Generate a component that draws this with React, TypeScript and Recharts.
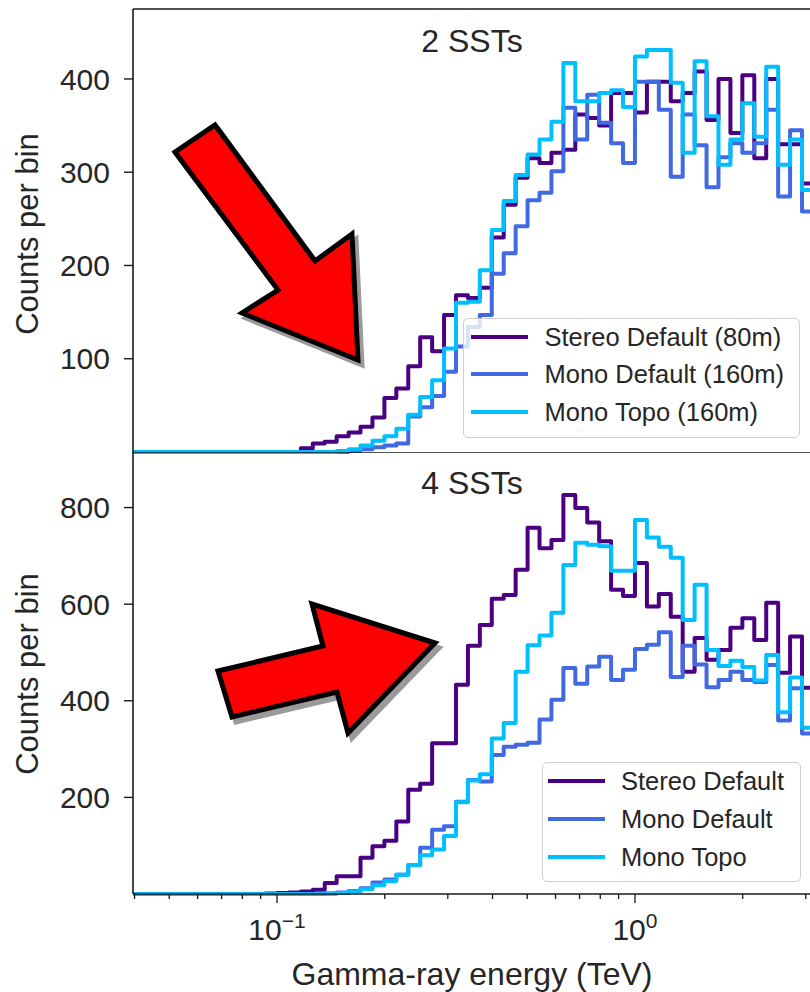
import { LineChart, Line, XAxis, YAxis, ReferenceLine, Legend } from 'recharts';

const FONT = '"Liberation Sans", Arial, Helvetica, sans-serif';
const TEXT = '#262626';
const AXIS = '#1a1a1a';

const COLORS: Record<string, string> = { stereo: '#4b0082', mono: '#4169e1', topo: '#00bfff' };
const KEYS = ['stereo', 'mono', 'topo'];

// x axis (log, TeV)
const X_MIN = 0.0396;
const X_MAX = 3.083;
const X_TICKS = [0.04, 0.05, 0.06, 0.07, 0.08, 0.09, 0.1, 0.2, 0.3, 0.4, 0.5, 0.6, 0.7, 0.8, 0.9, 1, 2, 3];

const TOP_Y_TICKS = [100, 200, 300, 400];
const BOTTOM_Y_TICKS = [200, 400, 600, 800];

// histogram bin edges, 30 per decade (0.0926 ... 3.162 TeV)
const BIN_EDGES = [
  0.09261, 0.1, 0.10798, 0.11659, 0.12589, 0.13594, 0.14678, 0.15849, 0.17113, 0.18478,
  0.19953, 0.21544, 0.23263, 0.25119, 0.27123, 0.29286, 0.31623, 0.34145, 0.36869, 0.39811,
  0.42987, 0.46416, 0.50119, 0.54117, 0.58434, 0.63096, 0.68129, 0.73564, 0.79433, 0.8577,
  0.92611, 1, 1.07978, 1.16591, 1.25893, 1.35936, 1.4678, 1.58489, 1.71133, 1.84785,
  1.99526, 2.15443, 2.32631, 2.51189, 2.71227, 2.92864, 3.16228,
];

// counts per bin — 2 SSTs
const TOP_STEREO = [
  0, 0, 0, 4, 9, 11, 17, 21, 27, 37, 58, 68, 92, 123, 108, 147, 168, 165, 176, 230,
  265, 294, 315, 310, 321, 324, 362, 358, 350, 385, 385, 364, 397, 397, 376, 385, 408, 356, 400, 342,
  404, 315, 400, 330, 330, 288,
];
const TOP_MONO = [
  0, 0, 0, 0, 0, 0, 0, 1, 3, 5, 7, 9, 38, 48, 60, 86, 113, 134, 147, 191,
  213, 242, 270, 278, 301, 369, 335, 383, 353, 331, 310, 397, 397, 367, 295, 362, 329, 284, 316, 331,
  321, 331, 367, 274, 345, 258,
];
const TOP_TOPO = [
  0, 0, 0, 0, 0, 0, 1, 3, 7, 12, 17, 25, 40, 59, 77, 111, 160, 161, 195, 238,
  269, 297, 319, 335, 354, 417, 376, 376, 385, 388, 370, 424, 431, 431, 396, 321, 419, 360, 308, 335,
  374, 338, 413, 308, 335, 281,
];

// counts per bin — 4 SSTs
const BOTTOM_STEREO = [
  1, 2, 3, 5, 9, 23, 37, 37, 75, 99, 110, 150, 216, 228, 312, 312, 433, 514, 557, 611,
  619, 671, 758, 716, 733, 826, 799, 769, 730, 630, 617, 685, 595, 621, 574, 460, 530, 485, 505, 551,
  571, 526, 603, 458, 533, 427,
];
const BOTTOM_MONO = [
  0, 0, 0, 0, 0, 1, 3, 6, 12, 24, 30, 40, 60, 96, 133, 140, 191, 236, 233, 288,
  305, 309, 313, 361, 402, 468, 435, 471, 491, 443, 464, 507, 516, 542, 449, 514, 475, 428, 443, 460,
  443, 439, 474, 359, 426, 332,
];
const BOTTOM_TOPO = [
  0, 0, 0, 0, 0, 1, 2, 5, 10, 18, 27, 40, 60, 80, 92, 120, 190, 235, 248, 322,
  354, 460, 515, 535, 582, 681, 727, 723, 720, 669, 669, 774, 738, 719, 696, 567, 640, 505, 472, 483,
  470, 442, 495, 376, 448, 344,
];

const TOP_LABELS = ['Stereo Default (80m)', 'Mono Default (160m)', 'Mono Topo (160m)'];
const BOTTOM_LABELS = ['Stereo Default', 'Mono Default', 'Mono Topo'];

function buildRows(stereo: number[], mono: number[], topo: number[]) {
  const rows = [{ e: X_MIN, stereo: 0, mono: 0, topo: 0 }];
  BIN_EDGES.forEach((e, i) => {
    const j = Math.min(i, stereo.length - 1);
    rows.push({ e, stereo: stereo[j], mono: mono[j], topo: topo[j] });
  });
  return rows;
}

const topRows = buildRows(TOP_STEREO, TOP_MONO, TOP_TOPO);
const bottomRows = buildRows(BOTTOM_STEREO, BOTTOM_MONO, BOTTOM_TOPO);

function XTick(props: any) {
  const { x, y, payload, labels, majorLen, minorLen } = props;
  const v = payload.value;
  const major = v === 0.1 || v === 1;
  return (
    <g>
      <line x1={x} x2={x} y1={y} y2={y + (major ? majorLen : minorLen)} stroke={AXIS} strokeWidth={1.3} />
      {labels && major ? (
        <text x={x} y={y + 46} textAnchor="middle" fontSize={30} fontFamily={FONT} fill={TEXT}>
          10
          <tspan dy={-12} fontSize={21}>
            {v === 1 ? '0' : '\u22121'}
          </tspan>
        </text>
      ) : null}
    </g>
  );
}

const ROW_CENTERS = [19.5, 57, 95];

function LegendBox({ labels, width, sampleLeft, sampleWidth, textLeft }: any) {
  return (
    <div
      style={{
        position: 'relative',
        width,
        height: 120,
        boxSizing: 'border-box',
        border: '1.5px solid #cfcfcf',
        borderRadius: 5,
        background: 'rgba(255,255,255,0.8)',
        fontFamily: FONT,
      }}
    >
      {labels.map((label: string, i: number) => (
        <div key={label} style={{ position: 'absolute', left: 0, top: ROW_CENTERS[i] - 16.5, height: 30, width: '100%' }}>
          <div style={{ position: 'absolute', left: sampleLeft, top: 13, width: sampleWidth, height: 4, background: COLORS[KEYS[i]] }} />
          <div
            style={{
              position: 'absolute',
              left: textLeft,
              top: 0,
              height: 30,
              lineHeight: '30px',
              fontSize: 25.5,
              color: TEXT,
              whiteSpace: 'nowrap',
            }}
          >
            {label}
          </div>
        </div>
      ))}
    </div>
  );
}

const yTick = { fontSize: 30, fill: TEXT, fontFamily: FONT };
const axisLine = { stroke: AXIS, strokeWidth: 1.6 };

export default function App() {
  return (
    <div style={{ position: 'absolute', left: 0, top: 0, width: 810, height: 992, overflow: 'hidden', background: '#fff', fontFamily: FONT }}>
      {/* 2 SSTs */}
      <div style={{ position: 'absolute', left: 0, top: 0 }}>
        <LineChart width={810} height={461} data={topRows} margin={{ top: 9, right: 0, bottom: 9, left: 0 }}>
          <XAxis
            dataKey="e"
            type="number"
            scale="log"
            domain={[X_MIN, X_MAX]}
            allowDataOverflow
            ticks={X_TICKS}
            interval={0}
            height={0}
            tickSize={0}
            tickMargin={0}
            tickLine={false}
            axisLine={axisLine}
            tick={<XTick labels={false} majorLen={7} minorLen={4} />}
          />
          <YAxis
            type="number"
            domain={[0, 475]}
            ticks={TOP_Y_TICKS}
            width={133}
            tickSize={9}
            tickMargin={14}
            axisLine={axisLine}
            tickLine={{ stroke: AXIS, strokeWidth: 1.4 }}
            tick={yTick}
          />
          <ReferenceLine y={475} stroke={AXIS} strokeWidth={1.6} />
          <Line type="stepAfter" dataKey="stereo" stroke={COLORS.stereo} strokeWidth={4} strokeLinejoin="round" dot={false} activeDot={false} isAnimationActive={false} />
          <Line type="stepAfter" dataKey="mono" stroke={COLORS.mono} strokeWidth={4} strokeLinejoin="round" dot={false} activeDot={false} isAnimationActive={false} />
          <Line type="stepAfter" dataKey="topo" stroke={COLORS.topo} strokeWidth={4} strokeLinejoin="round" dot={false} activeDot={false} isAnimationActive={false} />
          <Legend
            layout="horizontal"
            verticalAlign="middle"
            align="center"
            wrapperStyle={{ left: 463, top: 317.5, width: 337, height: 120 }}
            content={() => <LegendBox labels={TOP_LABELS} width={337} sampleLeft={7.2} sampleWidth={56.6} textLeft={80.5} />}
          />
        </LineChart>
      </div>

      {/* 4 SSTs */}
      <div style={{ position: 'absolute', left: 0, top: 452 }}>
        <LineChart width={810} height={540} data={bottomRows} margin={{ top: 0, right: 0, bottom: 0, left: 0 }}>
          <XAxis
            dataKey="e"
            type="number"
            scale="log"
            domain={[X_MIN, X_MAX]}
            allowDataOverflow
            ticks={X_TICKS}
            interval={0}
            height={98}
            tickSize={0}
            tickMargin={0}
            tickLine={false}
            axisLine={axisLine}
            tick={<XTick labels majorLen={9} minorLen={5} />}
          />
          <YAxis
            type="number"
            domain={[0, 915]}
            ticks={BOTTOM_Y_TICKS}
            width={133}
            tickSize={9}
            tickMargin={14}
            axisLine={axisLine}
            tickLine={{ stroke: AXIS, strokeWidth: 1.4 }}
            tick={yTick}
          />
          <ReferenceLine y={915} stroke={AXIS} strokeWidth={1.6} />
          <Line type="stepAfter" dataKey="stereo" stroke={COLORS.stereo} strokeWidth={4} strokeLinejoin="round" dot={false} activeDot={false} isAnimationActive={false} />
          <Line type="stepAfter" dataKey="mono" stroke={COLORS.mono} strokeWidth={4} strokeLinejoin="round" dot={false} activeDot={false} isAnimationActive={false} />
          <Line type="stepAfter" dataKey="topo" stroke={COLORS.topo} strokeWidth={4} strokeLinejoin="round" dot={false} activeDot={false} isAnimationActive={false} />
          <Legend
            layout="horizontal"
            verticalAlign="middle"
            align="center"
            wrapperStyle={{ left: 541.5, top: 310, width: 259, height: 120 }}
            content={() => <LegendBox labels={BOTTOM_LABELS} width={259} sampleLeft={5} sampleWidth={57} textLeft={78.5} />}
          />
        </LineChart>
      </div>

      {/* titles, axis labels and the red arrows */}
      <svg width={810} height={992} style={{ position: 'absolute', left: 0, top: 0, pointerEvents: 'none' }}>
        <g fontFamily={FONT} fill={TEXT}>
          <text x={472} y={52} fontSize={32} textAnchor="middle">2 SSTs</text>
          <text x={472} y={494} fontSize={32} textAnchor="middle">4 SSTs</text>
          <text transform="translate(38,234) rotate(-90)" fontSize={31} textAnchor="middle">Counts per bin</text>
          <text transform="translate(38,674) rotate(-90)" fontSize={31} textAnchor="middle">Counts per bin</text>
          <text x={472} y={985} fontSize={32} textAnchor="middle">Gamma-ray energy (TeV)</text>
        </g>
        <g transform="translate(4,5)">
          <polygon points="175,152 215,125 315,261 352,234 358,360 242,313 278,290" fill="#9a9a9a" stroke="#9a9a9a" strokeWidth={5} />
          <polygon points="218,671 323,646 312,604 435,643 348,733 337,692 232,717" fill="#9a9a9a" stroke="#9a9a9a" strokeWidth={5} />
        </g>
        <polygon points="175,152 215,125 315,261 352,234 358,360 242,313 278,290" fill="#ff0000" stroke="#000" strokeWidth={5} />
        <polygon points="218,671 323,646 312,604 435,643 348,733 337,692 232,717" fill="#ff0000" stroke="#000" strokeWidth={5} />
      </svg>
    </div>
  );
}
